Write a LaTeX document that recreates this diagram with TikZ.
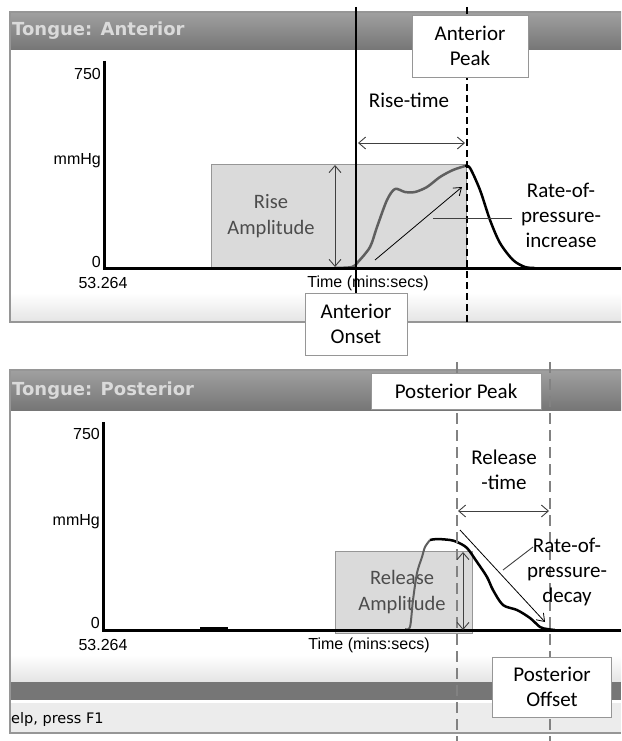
\documentclass[tikz,border=0pt]{standalone}
\usepackage{fontspec}
\setmainfont{Carlito}
\newfontfamily\axisfont{Liberation Sans}
\newfontfamily\winfont{DejaVu Sans}
\usetikzlibrary{arrows.meta,calc,positioning}

\definecolor{barTop}{RGB}{160,160,160}
\definecolor{barBot}{RGB}{118,118,118}
\definecolor{titleTxt}{RGB}{218,218,218}
\definecolor{stripBot}{RGB}{228,228,228}
\definecolor{ampFill}{RGB}{218,218,218}
\definecolor{curveGray}{RGB}{95,95,95}
\definecolor{dashGray}{RGB}{130,130,130}
\definecolor{frameGray}{RGB}{150,150,150}
\definecolor{statusFill}{RGB}{236,236,236}

\begin{document}
\begin{tikzpicture}[x=1pt, y=-1pt,
	callout/.style={draw=frameGray, fill=white, font=\fontsize{21}{25}\selectfont, align=center, inner sep=0pt},
	note/.style={font=\fontsize{21}{25}\selectfont, align=center, inner sep=1pt},
	boxtext/.style={font=\fontsize{20.5}{26}\selectfont, align=center, text=black!70},
	axislbl/.style={font=\axisfont\fontsize{16}{16}\selectfont, inner sep=1pt},
	wintitle/.style={font=\winfont\bfseries\fontsize{18}{18}\selectfont, text=titleTxt, inner sep=0pt},
	ampbox/.style={draw=frameGray, fill=ampFill, inner sep=0pt, anchor=north west},
	axisline/.style={line width=3pt},
	measure/.style={{Straight Barb[length=7pt,width=12pt]}-{Straight Barb[length=7pt,width=12pt]}, draw=black!75, line width=0.9pt},
	rate/.style={-{Straight Barb[length=7pt,width=10pt]}, line width=0.8pt},
	pointer/.style={draw=black!75, line width=0.9pt},
	barshade/.style={top color=barTop, bottom color=barBot},
	stripshade/.style={top color=white, bottom color=stripBot}]
	
	\useasboundingbox (0,0) rectangle (621,741);
	
	% ----- TOP: anterior window
	\fill[barshade] (10,12) rectangle (621,50);
	\node[wintitle, anchor=west] (antTitle) at (12,31) {Tongue: Anterior};
	\fill[stripshade] (10,293) rectangle (621,322);
	\draw[frameGray, line width=1.2pt] (621,12) -- (10,12) -- (10,322) -- (621,322);
	
	% amplitude box and trace
	\node[ampbox, minimum width=255pt, minimum height=104pt] (riseBox) at (211,164) {};
	\node[boxtext] (riseAmp) at (271,216) {Rise\\Amplitude};
	\draw[curveGray, line width=2.5pt] plot[smooth, tension=0.5] coordinates {(335,268) (352,267) (358,262) (370,247) (377,227) (387,200) (395,189) (405,192) (415,192) (427,187) (440,177) (453,170) (465,166)};
	\draw[line width=2.5pt] plot[smooth, tension=0.5] coordinates {(465,166) (470,168) (480,190) (490,220) (500,243) (513,260) (525,267) (535,268)};
	
	% axes
	\coordinate (antYtop) at (104,61);
	\coordinate (antOrigin) at (104,268);
	\coordinate (antXend) at (621,268);
	\draw[axisline] (antYtop) -- (antOrigin) -- (antXend);
	\node[axislbl, anchor=east] (ant750) at (102,74) {750};
	\node[axislbl, anchor=east] (antUnit) at (102,161) {mmHg};
	\node[axislbl, anchor=east] (antZero) at (102,262) {0};
	\node[axislbl] (antStart) at (103,283) {53.264};
	\node[axislbl] (antTime) at (368,283) {Time (mins:secs)};
	
	% onset and peak markers
	\node[callout, minimum width=102pt, minimum height=62pt] (antOnset) at (356,324) {Anterior\\Onset};
	\coordinate (onsetTop) at (356,7);
	\draw[line width=2.5pt] (onsetTop) -- (antOnset.north);
	\coordinate (peakTop) at (467,7);
	\coordinate (peakEnd) at (467,323);
	\draw[line width=2.5pt, dash pattern=on 7pt off 4pt] (peakTop) -- (peakEnd);
	\node[callout, minimum width=116pt, minimum height=62pt] (antPeak) at (470,46) {Anterior\\Peak};
	
	% rise-time and amplitude
	\node[note] (riseTime) at (409,100) {Rise-time};
	\coordinate (rtLeft) at (358,143);
	\coordinate (rtRight) at (465,143);
	\draw[measure] (rtLeft) -- (rtRight);
	\coordinate (raTop) at (335,165);
	\coordinate (raBot) at (335,267);
	\draw[measure] (raTop) -- (raBot);
	
	% rate of increase
	\coordinate (upFrom) at (375,260);
	\coordinate (upTo) at (462,187);
	\draw[rate] (upFrom) -- (upTo);
	\node[note] (rateUp) at (561,215) {Rate-of-\\pressure-\\increase};
	\coordinate (upTick) at (433,218);
	\draw[pointer] (upTick) -- (512,218);
	
	% ----- BOTTOM: posterior window
	\fill[barshade] (10,370) rectangle (621,410);
	\node[wintitle, anchor=west] (postTitle) at (12,391) {Tongue: Posterior};
	\fill[stripshade] (10,655) rectangle (621,682);
	\fill[barBot] (10,682) rectangle (621,700);
	\fill[statusFill] (10,703) rectangle (621,733);
	\draw[frameGray, line width=1.2pt] (621,370) -- (10,370) -- (10,733) -- (621,733);
	\node[font=\winfont\fontsize{14.5}{14.5}\selectfont, anchor=west, inner sep=0pt] (helpTxt) at (11,719) {elp, press F1};
	
	% amplitude box and trace
	\node[ampbox, minimum width=137pt, minimum height=82pt] (relBox) at (335,551) {};
	\node[boxtext] (relAmp) at (402,592) {Release\\Amplitude};
	\draw[curveGray, line width=2pt] plot[smooth, tension=0.5] coordinates {(405,629) (410,627) (413,600) (417,573) (422,557) (425,547) (430,540)};
	\draw[line width=2.5pt] plot[smooth, tension=0.5] coordinates {(430,540) (437,539) (450,540) (457,542) (467,548) (477,562) (487,577) (493,590) (503,605) (517,610) (530,618) (540,627) (547,629) (555,630)};
	
	% axes
	\coordinate (postYtop) at (103,422);
	\coordinate (postOrigin) at (103,630);
	\coordinate (postXend) at (621,630);
	\draw[axisline] (postYtop) -- (postOrigin) -- (postXend);
	\draw[line width=3pt] (200,628) -- (228,628);
	\node[axislbl, anchor=east] (post750) at (101,434) {750};
	\node[axislbl, anchor=east] (postUnit) at (101,522) {mmHg};
	\node[axislbl, anchor=east] (postZero) at (101,623) {0};
	\node[axislbl] (postStart) at (103,645) {53.264};
	\node[axislbl] (postTime) at (369,645) {Time (mins:secs)};
	
	% peak and offset markers
	\coordinate (ppTop) at (457,362);
	\coordinate (ppEnd) at (457,741);
	\coordinate (poTop) at (550,362);
	\coordinate (poEnd) at (550,741);
	\draw[dashGray, line width=2.5pt, dash pattern=on 11pt off 6pt] (ppTop) -- (ppEnd);
	\draw[dashGray, line width=2.5pt, dash pattern=on 11pt off 6pt] (poTop) -- (poEnd);
	\node[callout, minimum width=170pt, minimum height=36pt] (postPeak) at (456,391) {Posterior Peak};
	\node[callout, minimum width=119pt, minimum height=60pt] (postOffset) at (552,687) {Posterior\\Offset};
	
	% release-time and amplitude
	\node[note] (relTime) at (504,470) {Release\\-time};
	\coordinate (rlLeft) at (458,511);
	\coordinate (rlRight) at (549,511);
	\draw[measure] (rlLeft) -- (rlRight);
	\coordinate (relTop) at (463,552);
	\coordinate (relBot) at (463,630);
	\draw[measure] (relTop) -- (relBot);
	
	% rate of decay
	\coordinate (downFrom) at (460,530);
	\coordinate (downTo) at (545,622);
	\draw[rate] (downFrom) -- (downTo);
	\node[note] (rateDown) at (567,572) {Rate-of-\\pressure-\\decay};
	\coordinate (downTick) at (503,570);
	\draw[pointer] (downTick) -- (533,547);
	
\end{tikzpicture}
\end{document}
